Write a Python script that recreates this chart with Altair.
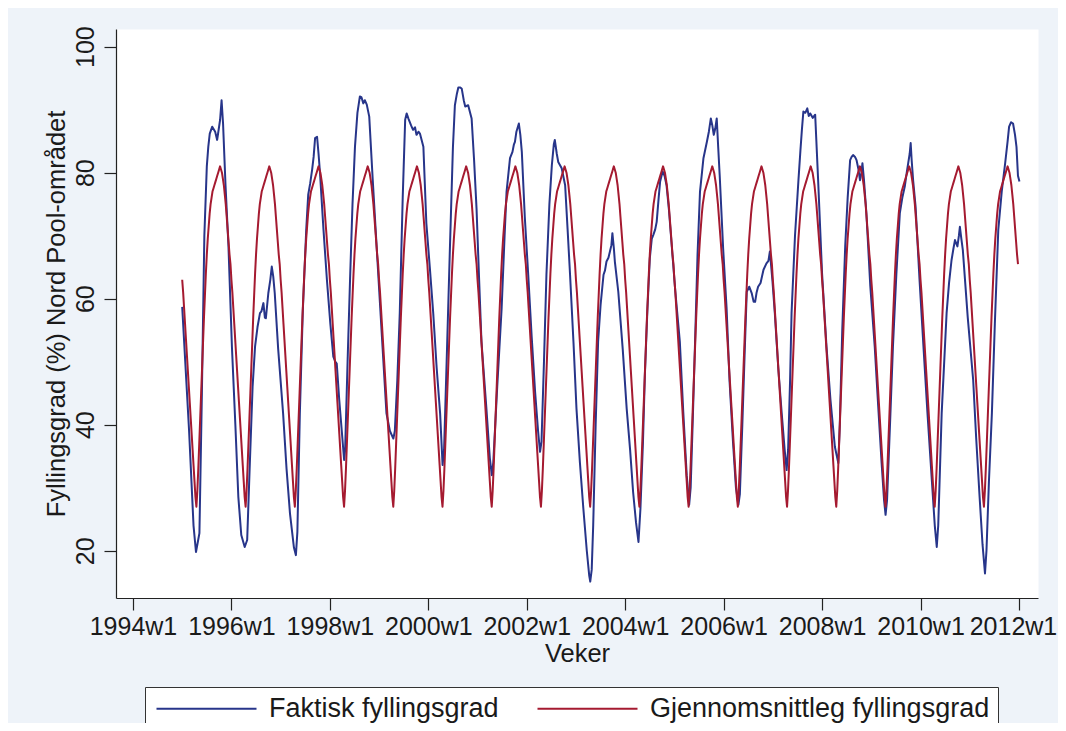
import altair as alt
import pandas as pd

SERIES = ["Faktisk fyllingsgrad", "Gjennomsnittleg fyllingsgrad"]
COLORS = ["#27358a", "#a51a30"]

tick_years = [1994, 1996, 1998, 2000, 2002, 2004, 2006, 2008, 2010, 2012]
y_ticks = [20, 40, 60, 80, 100]

# Average filling (%) for week 1..52 (same every year)
avg_profile = [63, 61, 58.5, 56, 53.5, 51, 48.5, 46, 43.5, 41, 38.5, 36, 33.5, 31, 28.5, 27,
               29.5, 33, 37, 41, 45, 49, 53, 57, 60.5, 64, 67, 69.5, 71.5, 73.5, 75, 76,
               77, 77.5, 78, 78.5, 79, 79.5, 80, 80.5, 81, 80.5, 80, 79, 78, 76.5, 75, 73,
               71, 69, 67, 65.5]
avg_years = list(range(1995, 2012))

# Actual filling (%) : time (decimal year) and value
actual_t = [
    1995.00, 1995.14, 1995.23, 1995.28, 1995.32, 1995.35, 1995.40, 1995.45, 1995.50, 1995.53,
    1995.56, 1995.61, 1995.67, 1995.71, 1995.77, 1995.80, 1995.83, 1995.88, 1995.94,
    1996.01, 1996.08, 1996.14, 1996.20, 1996.27, 1996.32, 1996.37, 1996.43, 1996.48, 1996.53,
    1996.58, 1996.61, 1996.65, 1996.68, 1996.70, 1996.75, 1996.79, 1996.82, 1996.85, 1996.88, 1996.95,
    1997.05, 1997.12, 1997.19, 1997.27, 1997.31, 1997.34, 1997.39, 1997.45, 1997.52, 1997.56,
    1997.60, 1997.64, 1997.67, 1997.70, 1997.74, 1997.77, 1997.80, 1997.87, 1997.94,
    1998.01, 1998.07, 1998.11, 1998.14, 1998.19, 1998.24, 1998.29, 1998.31, 1998.36, 1998.41,
    1998.46, 1998.51, 1998.56, 1998.61, 1998.64, 1998.68, 1998.71, 1998.75, 1998.80, 1998.87, 1998.95,
    1999.05, 1999.15, 1999.22, 1999.29, 1999.32, 1999.37, 1999.42, 1999.48, 1999.53, 1999.56,
    1999.60, 1999.65, 1999.69, 1999.73, 1999.76, 1999.80, 1999.83, 1999.90, 1999.96,
    2000.03, 2000.10, 2000.17, 2000.24, 2000.29, 2000.32, 2000.38, 2000.44, 2000.50, 2000.54,
    2000.58, 2000.61, 2000.65, 2000.68, 2000.72, 2000.75, 2000.81, 2000.88, 2000.93, 2000.98,
    2001.03, 2001.08, 2001.18, 2001.25, 2001.29, 2001.32, 2001.40, 2001.49, 2001.55, 2001.59,
    2001.66, 2001.71, 2001.74, 2001.76, 2001.79, 2001.84, 2001.87, 2001.90, 2001.96,
    2002.03, 2002.10, 2002.17, 2002.23, 2002.27, 2002.30, 2002.35, 2002.40, 2002.46, 2002.51,
    2002.55, 2002.57, 2002.61, 2002.64, 2002.71, 2002.78, 2002.83, 2002.88, 2002.95,
    2003.01, 2003.08, 2003.15, 2003.22, 2003.27, 2003.29, 2003.32, 2003.35, 2003.40, 2003.45,
    2003.50, 2003.56, 2003.59, 2003.62, 2003.66, 2003.69, 2003.72, 2003.74, 2003.77, 2003.79,
    2003.86, 2003.95,
    2004.03, 2004.10, 2004.16, 2004.22, 2004.27, 2004.31, 2004.36, 2004.40, 2004.45, 2004.50,
    2004.54, 2004.57, 2004.61, 2004.64, 2004.68, 2004.71, 2004.76, 2004.80, 2004.84, 2004.89, 2004.94,
    2005.02, 2005.11, 2005.18, 2005.25, 2005.30, 2005.33, 2005.37, 2005.42, 2005.47, 2005.52,
    2005.56, 2005.59, 2005.66, 2005.70, 2005.74, 2005.77, 2005.80, 2005.83, 2005.86, 2005.89,
    2005.92, 2005.99,
    2006.06, 2006.12, 2006.19, 2006.25, 2006.30, 2006.33, 2006.38, 2006.43, 2006.47, 2006.52,
    2006.57, 2006.61, 2006.64, 2006.67, 2006.70, 2006.75, 2006.81, 2006.87, 2006.91, 2006.94, 2006.99,
    2007.04, 2007.11, 2007.18, 2007.24, 2007.28, 2007.31, 2007.35, 2007.38, 2007.45, 2007.52,
    2007.56, 2007.59, 2007.62, 2007.66, 2007.70, 2007.73, 2007.76, 2007.81, 2007.86, 2007.92, 2008.00,
    2008.09, 2008.17, 2008.26, 2008.33, 2008.36, 2008.41, 2008.47, 2008.52, 2008.57, 2008.60,
    2008.63, 2008.67, 2008.70, 2008.74, 2008.77, 2008.80, 2008.82, 2008.85, 2008.90, 2008.98,
    2009.07, 2009.14, 2009.21, 2009.26, 2009.29, 2009.32, 2009.38, 2009.44, 2009.51, 2009.58,
    2009.63, 2009.68, 2009.72, 2009.75, 2009.78, 2009.80, 2009.82, 2009.85, 2009.90, 2009.98,
    2010.06, 2010.14, 2010.23, 2010.29, 2010.33, 2010.36, 2010.43, 2010.53, 2010.58, 2010.63,
    2010.67, 2010.70, 2010.75, 2010.78, 2010.80, 2010.83, 2010.86, 2010.96,
    2011.07, 2011.13, 2011.20, 2011.26, 2011.31, 2011.34, 2011.39, 2011.45, 2011.51, 2011.58,
    2011.65, 2011.72, 2011.77, 2011.80, 2011.84, 2011.88, 2011.92, 2011.95, 2011.98, 2012.01,
]
actual_v = [
    58.7, 39, 24, 19.8, 21.5, 22.8, 45, 70, 81, 84.1,
    86.2, 87.3, 86.5, 85.2, 88.4, 91.5, 87.8, 78, 68.3,
    52.4, 40, 28.6, 22.5, 20.6, 21.7, 33, 46, 52.4, 55.5,
    57.7, 58, 59.3, 57, 56.9, 60.9, 63, 65.1, 63.5, 60.9, 52,
    41.8, 33, 25.9, 20.5, 19.3, 23, 41.8, 58, 71, 76.5,
    78.3, 80.5, 82.5, 85.5, 85.7, 83, 79.9, 71, 63,
    56, 50.8, 50, 49.7, 44, 39.2, 34.4, 36, 50, 63,
    75, 84.1, 89.5, 92.1, 92, 91, 91.5, 90.8, 88.9, 79, 68.3,
    55, 41.8, 39, 37.8, 39, 47, 57.7, 76, 88.4, 89.4,
    88.5, 87.5, 86.8, 87.2, 86, 86.5, 86.2, 84.1, 72,
    65, 57.7, 49, 41.8, 33.6, 36, 52, 68.3, 84, 90.7,
    92.5, 93.5, 93.5, 93.3, 91.5, 90.5, 90.7, 88.6, 82, 74.3,
    63.5, 53.2, 42.6, 34.7, 32, 34, 46, 58.5, 70, 77,
    82.3, 83.3, 84.5, 84.9, 86.5, 87.8, 86, 83.3, 73,
    63.8, 54, 45.2, 39, 35.7, 37.3, 50, 63.8, 75, 81.2,
    84.5, 85.2, 83, 81.7, 80.7, 78, 71, 63.8, 53,
    42.6, 34, 26.7, 20, 16, 15.1, 17, 24, 40, 53.2,
    59, 63.8, 64.5, 65.9, 66.5, 67.5, 68.5, 70.4, 68, 65.9,
    61.1, 52,
    42.6, 36, 29.4, 24.5, 21.4, 26.7, 37, 47.9, 58, 66.4,
    69.5, 70.1, 71, 72.2, 76, 78.6, 80.2, 79.5, 78, 74, 69,
    61, 53.2, 42, 32, 27.3, 30, 40, 53.2, 67, 77,
    80, 82.3, 84.9, 86.5, 88.6, 87.5, 86, 87, 88.6, 84,
    79.6, 68,
    58.5, 47, 37.3, 30, 27.3, 29, 40, 52, 61.1, 61.9,
    60.9, 59.5, 59.5, 61, 61.9, 62.5, 64.6, 65.6, 66, 67.5, 63,
    57.7, 49, 41.8, 36, 32.8, 36, 47, 57.7, 70, 78.8,
    83.5, 86.8, 89.7, 89.5, 90.2, 89, 89.4, 88.7, 89.2, 78.8, 64,
    52.4, 44, 36.5, 33.9, 40, 55, 68.3, 76, 82, 82.5,
    82.8, 82.5, 82, 80.5, 78.8, 80, 81.5, 79, 73.6, 62,
    52.4, 43, 33.9, 28, 25.7, 28, 40, 52.4, 64, 73.6,
    76, 77.8, 80, 81.5, 83, 84.7, 82, 78.8, 74.6, 63,
    52.4, 42, 31.2, 24, 20.6, 24, 41.8, 57.7, 62.5, 66.1,
    68, 69.3, 68.3, 70, 71.4, 69.5, 67.7, 57,
    47.1, 38, 28.6, 21, 16.4, 20, 31, 41.8, 56, 70.9,
    77, 81.5, 85, 87.3, 88, 87.8, 86, 84.1, 79.5, 78.6,
]

actual_df = pd.DataFrame({"t": actual_t, "v": actual_v, "series": SERIES[0]})
avg_rows = []
for yr in avg_years:
    for i, val in enumerate(avg_profile):
        avg_rows.append({"t": yr + i / 52.0, "v": val, "series": SERIES[1]})
avg_df = pd.DataFrame(avg_rows)

FONT = "Liberation Sans"

x_enc = alt.X(
    "t:Q",
    scale=alt.Scale(domain=[1993.655, 2012.387], nice=False, zero=False),
    axis=alt.Axis(
        values=tick_years,
        labelExpr="datum.value + 'w1'",
        title="Veker",
        grid=False,
        tickSize=12,
        labelPadding=4,
        titlePadding=2,
        labelFlush=False,
        labelOverlap=False,
        labelOffset=alt.condition("datum.value == 2012", alt.value(-6), alt.value(0)),
    ),
)
y_enc = alt.Y(
    "v:Q",
    scale=alt.Scale(domain=[12.5, 102.8], nice=False, zero=False),
    axis=alt.Axis(
        values=y_ticks,
        title="Fyllingsgrad (%) Nord Pool-området",
        grid=False,
        tickSize=12,
        labelAngle=270,
        labelAlign="center",
        labelBaseline="alphabetic",
        labelPadding=11,
        titlePadding=4,
    ),
)
color_enc = alt.Color(
    "series:N",
    scale=alt.Scale(domain=SERIES, range=COLORS),
    legend=alt.Legend(
        title=None,
        orient="none",
        legendX=29,
        legendY=658,
        direction="horizontal",
        columns=2,
        symbolType="M-1,0H9",
        symbolSize=400,
        symbolStrokeWidth=2,
        labelFont=FONT,
        labelFontSize=27,
        labelColor="#1a1a1a",
        labelLimit=600,
        labelOffset=89,
        columnPadding=34,
        padding=8,
        strokeColor="#333333",
        fillColor="white",
    ),
)

actual_line = alt.Chart(actual_df).mark_line(strokeWidth=2, strokeJoin="round").encode(
    x=x_enc, y=y_enc, color=color_enc
)
avg_line = alt.Chart(avg_df).mark_line(strokeWidth=2, strokeJoin="round").encode(
    x=x_enc, y=y_enc, color=color_enc
)

chart = (
    alt.layer(actual_line, avg_line)
    .properties(
        width=922,
        height=569,
        padding={"left": 108, "top": 21, "right": 20, "bottom": 125},
        autosize=alt.AutoSizeParams(type="none"),
        background="#eef3f9",
    )
    .configure_view(fill="white", stroke="transparent")
    .configure_axis(
        labelFont=FONT,
        titleFont=FONT,
        labelFontSize=25,
        titleFontSize=25.5,
        titleFontWeight="normal",
        labelColor="#1a1a1a",
        titleColor="#1a1a1a",
        domainColor="#222222",
        tickColor="#222222",
        domainWidth=1.2,
        tickWidth=1.2,
    )
)

chart.save("out.html", embed_options={"renderer": "svg", "actions": False})
